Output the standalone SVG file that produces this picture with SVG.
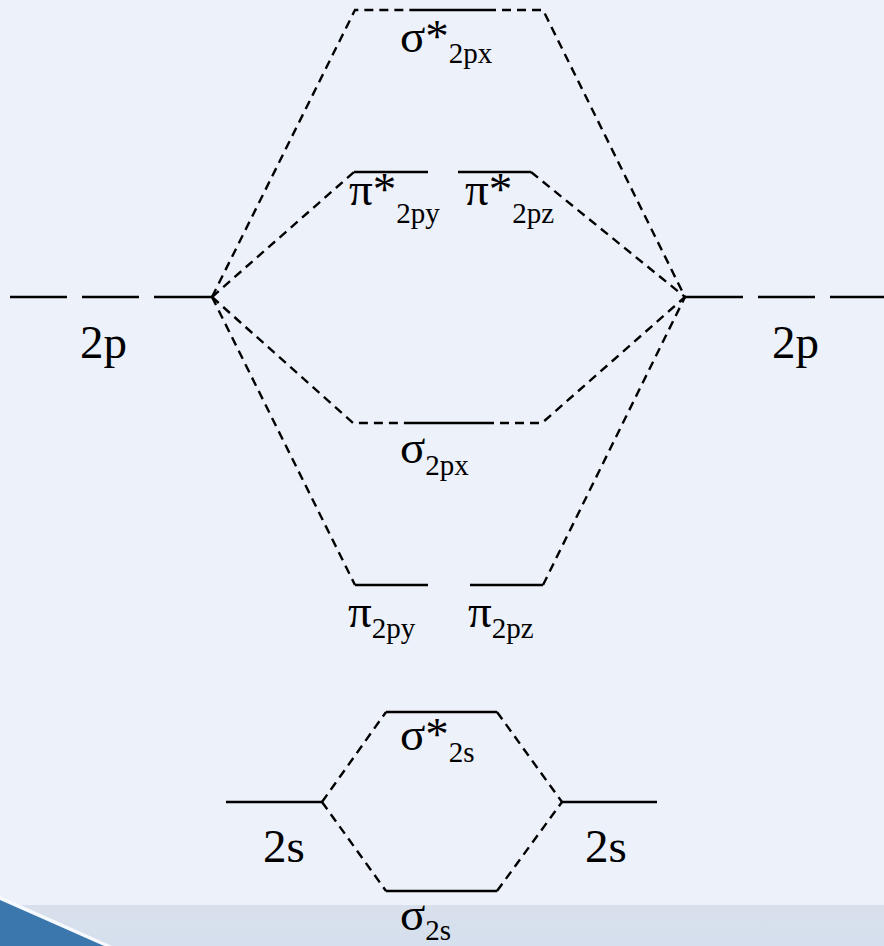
<svg xmlns="http://www.w3.org/2000/svg" width="884" height="946" viewBox="0 0 884 946">
<defs>
<style>
.lvl{stroke:#000;stroke-width:2.6;fill:none}
.cn{stroke:#000;stroke-width:2.4;fill:none;stroke-dasharray:9 6}
.m{font-size:47px}
.s{font-size:29px}
</style>
<linearGradient id="band" x1="0" y1="0" x2="0" y2="1">
<stop offset="0" stop-color="#d8e0ec"/>
<stop offset="1" stop-color="#d6dfed"/>
</linearGradient>
</defs>
<rect width="884" height="946" fill="#edf1f9"/>
<rect y="905" width="884" height="41" fill="url(#band)"/>
<path d="M0,896 Q50,918 112,946 L0,946 Z" fill="#f6f9fd"/>
<path d="M0,900 Q50,922 104,946 L0,946 Z" fill="#3b76ad"/>
<g id="connectors">
<polyline class="cn" points="212,297 355,10 412,10"/>
<polyline class="cn" points="487,10 543,10 685,297"/>
<polyline class="cn" points="212,297 354,172"/>
<polyline class="cn" points="531,172 685,297"/>
<polyline class="cn" points="212,297 353,423 412,423"/>
<polyline class="cn" points="485,423 542,423 685,297"/>
<polyline class="cn" points="212,297 355,585"/>
<polyline class="cn" points="543,585 685,297"/>
<polyline class="cn" points="322,802 386,712"/>
<polyline class="cn" points="322,802 386,891"/>
<polyline class="cn" points="497,712 562,802"/>
<polyline class="cn" points="497,891 562,802"/>
</g>
<g font-family="'Liberation Serif', 'DejaVu Serif', serif" fill="#000">
<g id="atom2p-left">
<line class="lvl" x1="10" y1="297" x2="67" y2="297"/>
<line class="lvl" x1="82" y1="297" x2="139" y2="297"/>
<line class="lvl" x1="154" y1="297" x2="212" y2="297"/>
<text class="m" x="80" y="358">2p</text>
</g>
<g id="atom2p-right">
<line class="lvl" x1="685" y1="297" x2="743" y2="297"/>
<line class="lvl" x1="758" y1="297" x2="815" y2="297"/>
<line class="lvl" x1="830" y1="297" x2="884" y2="297"/>
<text class="m" x="772" y="358">2p</text>
</g>
<g id="sigma-star-2px">
<line class="lvl" x1="412" y1="10" x2="487" y2="10"/>
<text class="m" x="400" y="52">σ*<tspan class="s" dy="11">2px</tspan></text>
</g>
<g id="pi-star-2py">
<line class="lvl" x1="354" y1="172" x2="428" y2="172"/>
<text class="m" x="349" y="205">π*<tspan class="s" dy="18">2py</tspan></text>
</g>
<g id="pi-star-2pz">
<line class="lvl" x1="458" y1="172" x2="531" y2="172"/>
<text class="m" x="465" y="205">π*<tspan class="s" dy="18">2pz</tspan></text>
</g>
<g id="sigma-2px">
<line class="lvl" x1="412" y1="423" x2="485" y2="423"/>
<text class="m" x="400" y="463">σ<tspan class="s" dy="12">2px</tspan></text>
</g>
<g id="pi-2py">
<line class="lvl" x1="355" y1="585" x2="428" y2="585"/>
<text class="m" x="348" y="627">π<tspan class="s" dy="11">2py</tspan></text>
</g>
<g id="pi-2pz">
<line class="lvl" x1="470" y1="585" x2="543" y2="585"/>
<text class="m" x="468" y="627">π<tspan class="s" dy="11">2pz</tspan></text>
</g>
<g id="sigma-star-2s">
<line class="lvl" x1="386" y1="712" x2="497" y2="712"/>
<text class="m" x="400" y="750">σ*<tspan class="s" dy="12">2s</tspan></text>
</g>
<g id="atom2s-left">
<line class="lvl" x1="226" y1="802" x2="322" y2="802"/>
<text class="m" x="263" y="862">2s</text>
</g>
<g id="atom2s-right">
<line class="lvl" x1="562" y1="802" x2="657" y2="802"/>
<text class="m" x="585" y="862">2s</text>
</g>
<g id="sigma-2s">
<line class="lvl" x1="386" y1="891" x2="497" y2="891"/>
<text class="m" x="400" y="930">σ<tspan class="s" dy="10">2s</tspan></text>
</g>
</g>
</svg>
